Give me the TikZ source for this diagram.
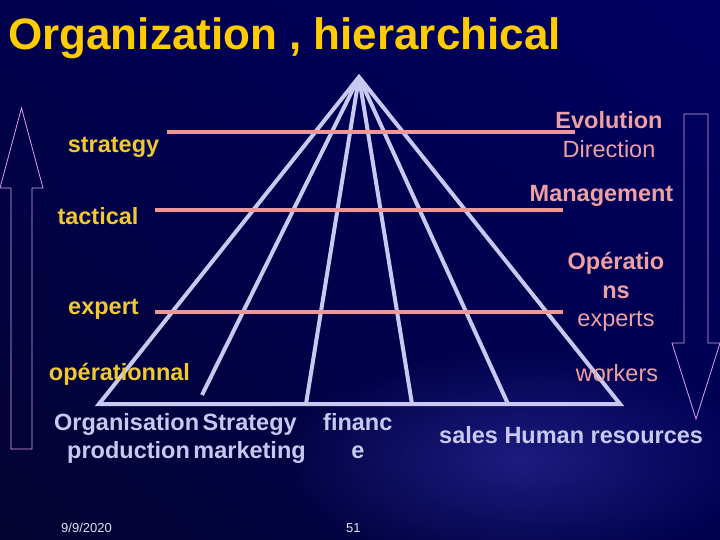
\documentclass[tikz,border=0pt]{standalone}
\usepackage{fontspec}
\setmainfont{Liberation Sans}
\usetikzlibrary{shadings,fadings}
\tikzfading[name=glowfade, inner color=transparent!0, outer color=transparent!100]
\definecolor{bgUL}{RGB}{0,0,78}
\definecolor{bgUR}{RGB}{0,0,98}
\definecolor{bgLL}{RGB}{4,4,50}
\definecolor{bgLR}{RGB}{0,0,80}
\definecolor{glow}{RGB}{40,40,150}
\definecolor{titleyellow}{RGB}{255,204,0}
\definecolor{labyellow}{RGB}{240,200,50}
\definecolor{labpink}{RGB}{240,160,160}
\definecolor{lav}{RGB}{200,200,240}
\definecolor{pinkline}{RGB}{240,150,150}
\definecolor{arrowc}{RGB}{220,160,230}
\definecolor{foot}{RGB}{225,225,240}
\begin{document}
\begin{tikzpicture}[x=1pt,y=-1pt,
  lab/.style={font=\fontsize{23.5}{28}\selectfont\bfseries, inner sep=0pt, anchor=base},
  ylab/.style={lab, text=labyellow},
  plab/.style={lab, text=labpink},
  preg/.style={plab, font=\fontsize{23.5}{28}\selectfont},
  blab/.style={lab, text=lav},
  footlab/.style={font=\fontsize{13}{15}\selectfont, inner sep=0pt, anchor=base west, text=foot},
  rib/.style={draw=lav, line width=4pt},
  level/.style={draw=pinkline, line width=4pt},
  bigarrow/.style={draw=arrowc, line width=0.8pt}]

\useasboundingbox (0,0) rectangle (720,540);
\shade[upper left=bgUL, upper right=bgUR, lower left=bgLL, lower right=bgLR] (0,0) rectangle (720,540);
\begin{scope}
\clip (0,0) rectangle (720,540);
\fill[glow, path fading=glowfade, opacity=0.7] (520,460) ellipse (240 and 110);
\end{scope}

% title
\node[anchor=base west, inner sep=0pt, text=titleyellow, font=\fontsize{44}{50}\selectfont\bfseries] (title) at (8,50) {Organization , hierarchical};

% pyramid
\coordinate (apex) at (359,77);
\coordinate (b1) at (99,404);
\coordinate (b2) at (202,395);
\coordinate (b3) at (306,404);
\coordinate (b4) at (412,404);
\coordinate (b5) at (508,404);
\coordinate (b6) at (620,404);
\draw[rib, line join=miter] (b1) -- (apex) -- (b6) -- cycle;
\foreach \b in {b2,b3,b4,b5} \draw[rib] (apex) -- (\b);

% level lines
\coordinate (s1) at (167,132); \coordinate (s2) at (575,132);
\coordinate (t1) at (155,210); \coordinate (t2) at (563,210);
\coordinate (e1) at (155,312); \coordinate (e2) at (563,312);
\draw[level] (s1) -- (s2);
\draw[level] (t1) -- (t2);
\draw[level] (e1) -- (e2);

% arrows
\draw[bigarrow] (11,449) -- (11,188) -- (0,188) -- (21.5,108) -- (43,188) -- (32,188) -- (32,449) -- cycle;
\draw[bigarrow] (684,114) -- (684,343) -- (672,343) -- (696,419) -- (720,343) -- (708,343) -- (708,114) -- cycle;

% left labels
\node[ylab] (strategy) at (113.5,153) {strategy};
\node[ylab] (tactical) at (98,225) {tactical};
\node[ylab] (expert) at (103.5,314) {expert};
\node[ylab] (oper) at (119.5,380) {opérationnal};

% right labels
\node[plab] (evol) at (609,129) {Evolution};
\node[preg] (dir) at (609,158) {Direction};
\node[plab] (mgmt) at (601.5,202) {Management};
\node[plab] (op1) at (616,269) {Opératio};
\node[plab] (op2) at (616,298) {ns};
\node[preg] (exps) at (616,326) {experts};
\node[preg] (work) at (617,381) {workers};

% bottom labels
\node[blab, anchor=base west] (org) at (54,430) {Organisation\hspace{-3pt} Strategy};
\node[blab, anchor=base west] (fin1) at (323,430) {financ};
\node[blab, anchor=base west] (prod) at (67,458) {production\hspace{-3pt} marketing};
\node[blab] (fin2) at (358,458) {e};
\node[blab, anchor=base west] (sales) at (439,443) {sales Human resources};

% footer
\node[footlab] (date) at (61,532) {9/9/2020};
\node[footlab] (page) at (346,532) {51};
\end{tikzpicture}
\end{document}
